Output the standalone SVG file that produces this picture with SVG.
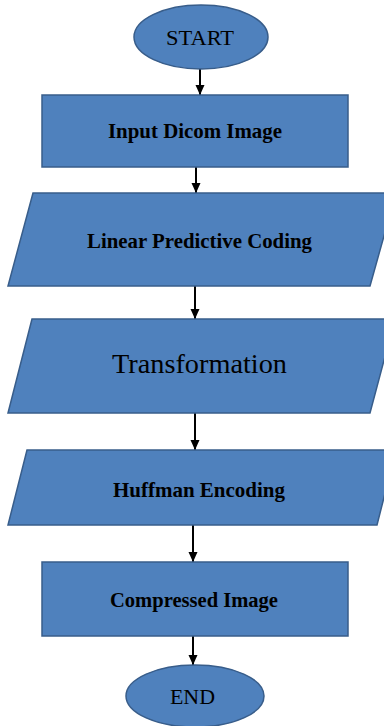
<svg xmlns="http://www.w3.org/2000/svg" width="384" height="726" viewBox="0 0 384 726">
  <style>
    .shape { fill: #4F81BD; stroke: #385D8A; stroke-width: 1.5; }
    .label { font-family: "Liberation Serif", "Times New Roman", serif; fill: #000; text-anchor: middle; }
    .b { font-weight: bold; font-size: 21px; }
    .conn { stroke: #000; stroke-width: 2; fill: none; marker-end: url(#arrow); }
  </style>
  <defs>
    <marker id="arrow" markerUnits="userSpaceOnUse" markerWidth="11" markerHeight="11" refX="10" refY="5.5" orient="auto">
      <path d="M0,1 L10,5.5 L0,10 Z" fill="#000"/>
    </marker>
  </defs>
  <rect width="384" height="726" fill="#fff"/>

  <g id="connectors">
    <line class="conn" x1="200" y1="69" x2="200" y2="95"/>
    <line class="conn" x1="196" y1="167" x2="196" y2="193"/>
    <line class="conn" x1="195" y1="286" x2="195" y2="319"/>
    <line class="conn" x1="195" y1="413" x2="195" y2="450"/>
    <line class="conn" x1="193" y1="525" x2="193" y2="562"/>
    <line class="conn" x1="193" y1="636" x2="193" y2="665"/>
  </g>

  <g id="start">
    <ellipse class="shape" cx="201" cy="37" rx="67" ry="32"/>
    <text class="label" x="200" y="45" font-size="20" textLength="68" lengthAdjust="spacingAndGlyphs">START</text>
  </g>

  <g id="input-dicom-image">
    <rect class="shape" x="42" y="95" width="306" height="72"/>
    <text class="label b" x="195" y="138" textLength="174" lengthAdjust="spacingAndGlyphs">Input Dicom Image</text>
  </g>

  <g id="linear-predictive-coding">
    <polygon class="shape" points="33,193 396,193 370,286 8,286"/>
    <text class="label b" x="199.5" y="248" textLength="225" lengthAdjust="spacingAndGlyphs">Linear Predictive Coding</text>
  </g>

  <g id="transformation">
    <polygon class="shape" points="32,319 395,319 370,413 8,413"/>
    <text class="label" x="199.5" y="373" font-size="27" textLength="175" lengthAdjust="spacingAndGlyphs">Transformation</text>
  </g>

  <g id="huffman-encoding">
    <polygon class="shape" points="27,450 396,450 377,525 8,525"/>
    <text class="label b" x="199" y="497" textLength="172" lengthAdjust="spacingAndGlyphs">Huffman Encoding</text>
  </g>

  <g id="compressed-image">
    <rect class="shape" x="42" y="562" width="306" height="74"/>
    <text class="label b" x="194" y="607" textLength="168" lengthAdjust="spacingAndGlyphs">Compressed Image</text>
  </g>

  <g id="end">
    <ellipse class="shape" cx="195" cy="696" rx="69" ry="31"/>
    <text class="label" x="192.5" y="704" font-size="21" textLength="45" lengthAdjust="spacingAndGlyphs">END</text>
  </g>
</svg>
